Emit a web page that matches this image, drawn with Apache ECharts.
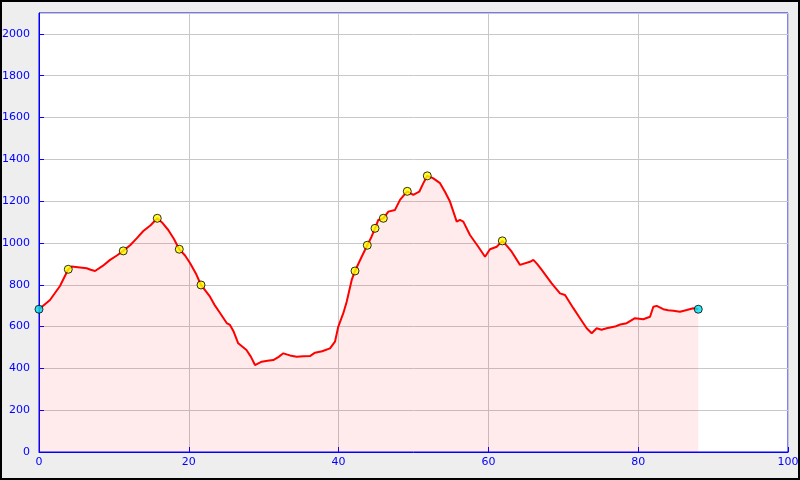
<!DOCTYPE html>
<html><head><meta charset="utf-8">
<script src="https://cdn.jsdelivr.net/npm/echarts@6/dist/echarts.min.js"></script>
<style>html,body{margin:0;padding:0;background:#eee}#c{width:800px;height:480px}</style>
</head><body><div id="c"></div>
<script>
const distances = [0,1.47,2.8,3.91,4.37,5.2,6.37,6.9,7.48,8.5,9.49,10.4,11.25,12.2,13.04,13.93,14.9,15.79,16.5,17.26,18.0,18.73,19.5,20.16,21.0,21.63,22.83,23.5,24.17,25.06,25.5,26.0,26.6,27.7,28.3,28.84,29.73,30.5,31.28,32.0,32.62,33.5,34.4,35.3,36.18,36.85,37.8,38.85,39.52,39.96,40.63,41.08,41.75,42.19,43.08,43.83,44.4,44.86,45.3,45.97,46.64,47.53,48.2,48.7,49.17,49.97,50.77,51.3,51.84,52.6,53.54,54.2,54.87,55.77,56.2,56.65,57.54,58.65,59.55,60.21,61.11,61.86,62.5,63.11,64.22,65.55,66.0,66.5,67.12,68.45,69.56,70.23,71.34,72.23,73.12,73.79,74.46,75.1,75.79,76.9,77.6,78.46,79.57,80.68,81.58,82.02,82.47,83.35,84.0,84.69,85.58,86.48,87.35,88.02];
const elevations = [683,727,794,874,887,884,879,872,866,890,919,940,962,990,1022,1057,1085,1118,1095,1062,1020,970,940,904,850,799,743,700,665,617,608,575,520,488,455,416,432,436,440,455,472,462,456,458,459,475,482,496,528,600,664,719,823,866,934,989,1030,1070,1110,1118,1150,1158,1206,1228,1247,1230,1245,1285,1321,1310,1286,1245,1198,1102,1110,1102,1038,982,934,970,982,1010,985,958,895,910,919,900,871,807,759,751,688,640,592,568,592,585,592,600,610,616,640,635,647,695,699,683,678,676,671,679,688,683];
const waypointIdx = [3,12,17,21,25,53,55,57,59,64,68,81];
const endpointIdx = [0,113];

const line = distances.map((d,i)=>[d,elevations[i]]);
const yellowPts = waypointIdx.map(i=>[distances[i],elevations[i]]);
const cyanPts = endpointIdx.map(i=>[distances[i],elevations[i]]);

const chart = echarts.init(document.getElementById('c'), null, {renderer:'canvas'});
const blue = '#0000ff';
chart.setOption({
  backgroundColor:'#eeeeee',
  animation:false,
  textStyle:{fontFamily:'DejaVu Sans'},
  graphic:[{type:'rect',shape:{x:1,y:1,width:798,height:478},style:{fill:'none',stroke:'#000',lineWidth:2},z:100}],
  grid:{left:39,right:12,top:13,bottom:28,show:true,backgroundColor:'#fff',borderColor:blue,borderWidth:1,containLabel:false,outerBoundsMode:'none'},
  xAxis:{type:'value',min:0,max:100,interval:20,
    axisLine:{show:true,lineStyle:{color:blue,width:1}},
    axisTick:{show:true,inside:true,length:5,lineStyle:{color:blue}},
    axisLabel:{color:blue,fontSize:11,margin:5,formatter:v=>String(v)},
    splitLine:{show:true,lineStyle:{color:'#c8c8c8',width:1}}},
  yAxis:{type:'value',min:0,max:2100,interval:200,
    axisLine:{show:true,lineStyle:{color:blue,width:1}},
    axisTick:{show:true,inside:true,length:5,lineStyle:{color:blue}},
    axisLabel:{color:blue,fontSize:11,margin:9,showMaxLabel:false,formatter:v=>String(v)},
    splitLine:{show:true,lineStyle:{color:'#c8c8c8',width:1}}},
  series:[
    {type:'line',data:line,showSymbol:false,symbol:'none',lineStyle:{color:'#ff0000',width:2},
     areaStyle:{color:'rgba(255,0,0,0.115)'}},
    {type:'scatter',data:yellowPts,symbol:'circle',symbolSize:8,itemStyle:{color:'#ffff00',borderColor:'#000',borderWidth:1},z:5},
    {type:'scatter',data:cyanPts,symbol:'circle',symbolSize:8,itemStyle:{color:'#00e0f0',borderColor:'#000',borderWidth:1},z:5}
  ]
});
</script></body></html>
